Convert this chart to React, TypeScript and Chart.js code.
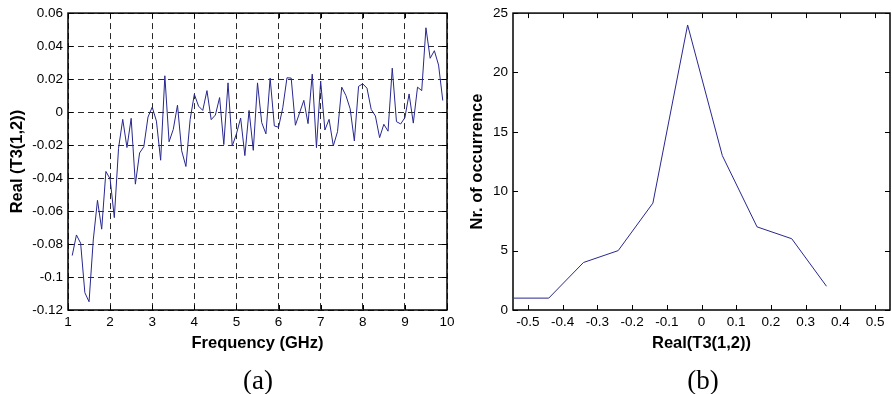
import React, { useEffect, useRef } from 'react';
import { Chart, registerables } from 'chart.js';

Chart.register(...registerables);

// ---------- Data: panel (a) ----------
const frequencyGHz = [
  1.1, 1.2, 1.3, 1.4, 1.5, 1.6, 1.7, 1.8, 1.9, 2.0,
  2.1, 2.2, 2.3, 2.4, 2.5, 2.6, 2.7, 2.8, 2.9, 3.0,
  3.1, 3.2, 3.3, 3.4, 3.5, 3.6, 3.7, 3.8, 3.9, 4.0,
  4.1, 4.2, 4.3, 4.4, 4.5, 4.6, 4.7, 4.8, 4.9, 5.0,
  5.1, 5.2, 5.3, 5.4, 5.5, 5.6, 5.7, 5.8, 5.9, 6.0,
  6.1, 6.2, 6.3, 6.4, 6.5, 6.6, 6.7, 6.8, 6.9, 7.0,
  7.1, 7.2, 7.3, 7.4, 7.5, 7.6, 7.7, 7.8, 7.9, 8.0,
  8.1, 8.2, 8.3, 8.4, 8.5, 8.6, 8.7, 8.8, 8.9, 9.0,
  9.1, 9.2, 9.3, 9.4, 9.5, 9.6, 9.7, 9.8, 9.9,
];

const realT3 = [
  -0.087, -0.0745, -0.0795, -0.1095, -0.115, -0.0775, -0.0535, -0.071, -0.036, -0.0405,
  -0.064, -0.022, -0.0044, -0.0215, -0.0038, -0.0437, -0.0248, -0.021, -0.003, 0.003,
  -0.0055, -0.0292, 0.022, -0.018, -0.0105, 0.0042, -0.0235, -0.033, -0.0046, 0.0108,
  0.0036, 0.001, 0.013, -0.0046, -0.0018, 0.0088, -0.0197, 0.0177, -0.0206, -0.0132,
  -0.0036, -0.0264, 0.001, -0.0232, 0.0177, -0.0064, -0.0132, 0.0206, -0.0084, -0.0092,
  0.0026, 0.0208, 0.0206, -0.008, -0.0004, 0.0071, -0.007, 0.023, -0.0216, 0.0188,
  -0.0109, -0.0044, -0.0205, -0.0119, 0.0151, 0.01, 0.002, -0.0175, 0.0156, 0.0171,
  0.0145, 0.0016, -0.0024, -0.0155, -0.0074, -0.0116, 0.0266, -0.0058, -0.0072, -0.0034,
  0.011, -0.0067, 0.0151, 0.013, 0.0511, 0.0326, 0.0372, 0.0285, 0.007,
];

const freqTicks = [1, 2, 3, 4, 5, 6, 7, 8, 9, 10];
const realTicks = [-0.12, -0.1, -0.08, -0.06, -0.04, -0.02, 0, 0.02, 0.04, 0.06];

// ---------- Data: panel (b) ----------
const histBins = [-0.54, -0.44, -0.34, -0.24, -0.14, -0.04, 0.06, 0.16, 0.26, 0.36];
const histCounts = [1, 1, 4, 5, 9, 24, 13, 7, 6, 2];
const histXTicks = [-0.5, -0.4, -0.3, -0.2, -0.1, 0, 0.1, 0.2, 0.3, 0.4, 0.5];
const histYTicks = [0, 5, 10, 15, 20, 25];

// ---------- Styles ----------
const FONT = '"Liberation Sans", Arial, Helvetica, sans-serif';
const LINE_COLOR = '#27278f';
const GRID_COLOR = '#2a2a2a';

Chart.defaults.font.family = FONT;
Chart.defaults.color = '#000';

const fmt = (v: number) => String(Math.round(Number(v) * 100) / 100);

const boxPlugin = {
  id: 'matlabBox',
  afterDraw(chart: any) {
    const { ctx, chartArea } = chart;
    const { left, right, top, bottom } = chartArea;
    const xs = chart.scales.x;
    const ys = chart.scales.y;
    const L = 5;
    ctx.save();
    ctx.setLineDash([]);
    ctx.strokeStyle = '#000';
    ctx.lineWidth = 1;
    ctx.beginPath();
    xs.ticks.forEach((t: any) => {
      const px = Math.round(xs.getPixelForValue(t.value)) + 0.5;
      ctx.moveTo(px, bottom);
      ctx.lineTo(px, bottom - L);
      ctx.moveTo(px, top);
      ctx.lineTo(px, top + L);
    });
    ys.ticks.forEach((t: any) => {
      const py = Math.round(ys.getPixelForValue(t.value)) + 0.5;
      ctx.moveTo(left, py);
      ctx.lineTo(left + L, py);
      ctx.moveTo(right, py);
      ctx.lineTo(right - L, py);
    });
    ctx.stroke();
    ctx.lineWidth = 1.5;
    ctx.strokeRect(left, top, right - left, bottom - top);
    ctx.restore();
  },
};

function axisTitle(text: string, pad: any) {
  return {
    display: true,
    text,
    color: '#000',
    font: { family: FONT, size: 16.5, weight: 'bold' as const },
    padding: pad,
  };
}

function tickOpts(padding: number) {
  return {
    padding,
    color: '#000',
    font: { family: FONT, size: 13.5 },
    maxRotation: 0,
    minRotation: 0,
    autoSkip: false,
    callback: (v: any) => fmt(v),
  };
}

function leftConfig(): any {
  return {
    type: 'line',
    data: {
      datasets: [
        {
          data: frequencyGHz.map((f, i) => ({ x: f, y: realT3[i] })),
          borderColor: LINE_COLOR,
          borderWidth: 1,
          pointRadius: 0,
          tension: 0,
          fill: false,
        },
      ],
    },
    options: {
      responsive: false,
      animation: false,
      devicePixelRatio: 1,
      layout: { padding: { left: 0, right: 13, top: 12, bottom: 0 } },
      plugins: { legend: { display: false }, tooltip: { enabled: false } },
      scales: {
        x: {
          type: 'linear',
          min: 1,
          max: 10,
          afterBuildTicks: (s: any) => {
            s.ticks = freqTicks.map((v) => ({ value: v }));
          },
          afterFit: (s: any) => {
            s.height = 84;
          },
          grid: { display: true, color: GRID_COLOR, lineWidth: 1, drawTicks: false },
          border: { display: false, dash: [6, 4] },
          ticks: tickOpts(4),
          title: axisTitle('Frequency (GHz)', { top: 0, bottom: 40.5 }),
        },
        y: {
          type: 'linear',
          min: -0.12,
          max: 0.06,
          afterBuildTicks: (s: any) => {
            s.ticks = realTicks.map((v) => ({ value: v }));
          },
          afterFit: (s: any) => {
            s.width = 68;
          },
          grid: { display: true, color: GRID_COLOR, lineWidth: 1, drawTicks: false },
          border: { display: false, dash: [6, 4] },
          ticks: tickOpts(5),
          title: axisTitle('Real (T3(1,2))', { top: 8, bottom: 0 }),
        },
      },
    },
    plugins: [boxPlugin],
  };
}

function rightConfig(): any {
  return {
    type: 'line',
    data: {
      datasets: [
        {
          data: histBins.map((b, i) => ({ x: b, y: histCounts[i] })),
          borderColor: LINE_COLOR,
          borderWidth: 1,
          pointRadius: 0,
          tension: 0,
          fill: false,
        },
      ],
    },
    options: {
      responsive: false,
      animation: false,
      devicePixelRatio: 1,
      layout: { padding: { left: 0, right: 2, top: 12, bottom: 0 } },
      plugins: { legend: { display: false }, tooltip: { enabled: false } },
      scales: {
        x: {
          type: 'linear',
          min: -0.543,
          max: 0.543,
          afterBuildTicks: (s: any) => {
            s.ticks = histXTicks.map((v) => ({ value: v }));
          },
          afterFit: (s: any) => {
            s.height = 84;
          },
          grid: { display: false, drawTicks: false },
          border: { display: false },
          ticks: tickOpts(4),
          title: axisTitle('Real(T3(1,2))', { top: 0, bottom: 40.5 }),
        },
        y: {
          type: 'linear',
          min: 0,
          max: 25,
          afterBuildTicks: (s: any) => {
            s.ticks = histYTicks.map((v) => ({ value: v }));
          },
          afterFit: (s: any) => {
            s.width = 53;
          },
          grid: { display: false, drawTicks: false },
          border: { display: false },
          ticks: tickOpts(5),
          title: axisTitle('Nr. of occurrence', { top: 8, bottom: 0 }),
        },
      },
    },
    plugins: [boxPlugin],
  };
}

const captionStyle = (cx: number): React.CSSProperties => ({
  position: 'absolute',
  left: cx - 50,
  width: 100,
  top: 365,
  height: 30,
  lineHeight: '30px',
  textAlign: 'center',
  fontFamily: '"Liberation Serif", "Times New Roman", Times, serif',
  fontSize: 27,
  color: '#000',
});

export default function App() {
  const leftRef = useRef<HTMLCanvasElement>(null);
  const rightRef = useRef<HTMLCanvasElement>(null);

  useEffect(() => {
    const c1 = new Chart(leftRef.current as HTMLCanvasElement, leftConfig());
    const c2 = new Chart(rightRef.current as HTMLCanvasElement, rightConfig());
    return () => {
      c1.destroy();
      c2.destroy();
    };
  }, []);

  return (
    <div
      style={{
        position: 'absolute',
        left: 0,
        top: 0,
        width: 892,
        height: 394,
        background: '#fff',
        overflow: 'hidden',
      }}
    >
      <canvas
        ref={leftRef}
        width={460}
        height={394}
        style={{ position: 'absolute', left: 0, top: 0, width: 460, height: 394, display: 'block' }}
      />
      <canvas
        ref={rightRef}
        width={432}
        height={394}
        style={{ position: 'absolute', left: 460, top: 0, width: 432, height: 394, display: 'block' }}
      />
      <div style={captionStyle(258)}>(a)</div>
      <div style={captionStyle(703)}>(b)</div>
    </div>
  );
}
